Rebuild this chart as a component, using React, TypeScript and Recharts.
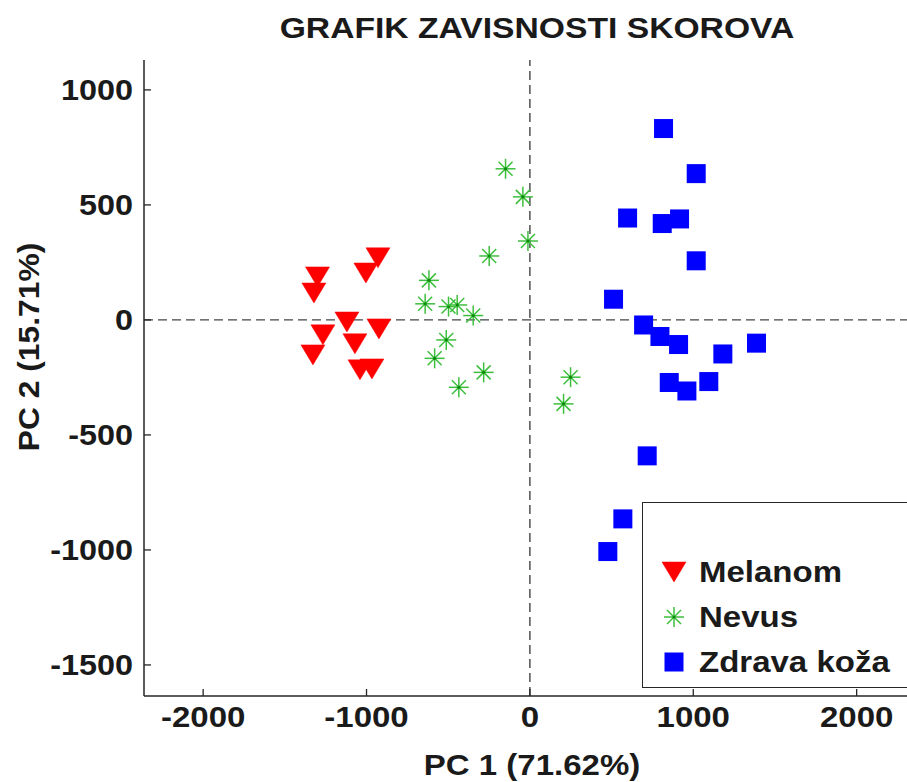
import { ScatterChart, Scatter, XAxis, YAxis, ReferenceLine, Legend } from 'recharts';

// PCA scores
const melanomX = [-930, -1004, -1300, -1322, -1120, -924, -1267, -1071, -1328, -1040, -967];
const melanomY = [270, 204, 187, 117, -9, -39, -65, -104, -152, -217, -213];

const nevusX = [-149, -43, -12, -249, -618, -641, -498, -445, -347, -512, -583, -283, -435, 249, 206];
const nevusY = [657, 535, 343, 278, 172, 70, 58, 65, 19, -87, -167, -228, -293, -249, -365];

const zdravaX = [818, 1018, 598, 810, 916, 1018, 512, 696, 796, 910, 1181, 1387, 853, 961, 1095, 718, 569, 477];
const zdravaY = [832, 636, 443, 419, 439, 257, 90, -22, -72, -107, -148, -101, -272, -309, -268, -591, -865, -1007];

const xTicks = [-2000, -1000, 0, 1000, 2000];
const yTicks = [-1500, -1000, -500, 0, 500, 1000];

const zip = (xs: number[], ys: number[]) => xs.map((x, i) => ({ x, y: ys[i] }));
const melanom = zip(melanomX, melanomY);
const nevus = zip(nevusX, nevusY);
const zdrava = zip(zdravaX, zdravaY);

const FONT = '"Liberation Sans", Arial, Helvetica, sans-serif';
const INK = '#1a1a1a';
const FRAME = '#262626';
const RED = '#ff0000';
const GREEN = '#3dbf3d';
const BLUE = '#0000ff';
const TICK_LEN = 7;

function Triangle({ cx, cy }: any) {
  return <polygon points={`${cx - 12},${cy - 10} ${cx + 12},${cy - 10} ${cx},${cy + 10}`} fill={RED} stroke={RED} strokeWidth={0.5} />;
}

function Asterisk({ cx, cy }: any) {
  const r = 10;
  const d = 7;
  return (
    <g stroke={GREEN} strokeWidth={1.5}>
      <line x1={cx - r} y1={cy} x2={cx + r} y2={cy} />
      <line x1={cx} y1={cy - r} x2={cx} y2={cy + r} />
      <line x1={cx - d} y1={cy - d} x2={cx + d} y2={cy + d} />
      <line x1={cx - d} y1={cy + d} x2={cx + d} y2={cy - d} />
      <circle cx={cx} cy={cy} r={1.6} fill="#0b8a0b" stroke="none" />
    </g>
  );
}

function Square({ cx, cy }: any) {
  return <rect x={cx - 9.5} y={cy - 9.5} width={19} height={19} fill={BLUE} />;
}

function BottomTick({ x, y, payload }: any) {
  return (
    <g>
      <line x1={x} y1={y} x2={x} y2={y - TICK_LEN} stroke={FRAME} strokeWidth={1.3} />
      <text
        transform={`translate(${x},${y + 21}) scale(1.1,1)`}
        textAnchor="middle"
        dominantBaseline="central"
        fontFamily={FONT}
        fontWeight="bold"
        fontSize={30}
        fill={INK}
      >
        {payload.value}
      </text>
    </g>
  );
}

function TopTick({ x, y }: any) {
  return <line x1={x} y1={y} x2={x} y2={y + TICK_LEN} stroke={FRAME} strokeWidth={1.3} />;
}

function LeftTick({ x, y, payload }: any) {
  return (
    <g>
      <line x1={x} y1={y} x2={x + TICK_LEN} y2={y} stroke={FRAME} strokeWidth={1.3} />
      <text
        transform={`translate(${x - 11},${y}) scale(1.08,1)`}
        textAnchor="end"
        dominantBaseline="central"
        fontFamily={FONT}
        fontWeight="bold"
        fontSize={30}
        fill={INK}
      >
        {payload.value}
      </text>
    </g>
  );
}

function RightTick({ x, y }: any) {
  return <line x1={x} y1={y} x2={x - TICK_LEN} y2={y} stroke={FRAME} strokeWidth={1.3} />;
}

const legendItems = [
  { name: 'Melanom', Marker: Triangle },
  { name: 'Nevus', Marker: Asterisk },
  { name: 'Zdrava koža', Marker: Square },
];

function LegendBox() {
  return (
    <div
      style={{
        boxSizing: 'border-box',
        width: 300,
        height: 186,
        border: `1.5px solid ${FRAME}`,
        background: '#fff',
        paddingTop: 46,
      }}
    >
      {legendItems.map(({ name, Marker }) => (
        <div key={name} style={{ height: 45, display: 'flex', alignItems: 'center' }}>
          <svg width={26} height={26} style={{ marginLeft: 18 }}>
            <Marker cx={13} cy={13} />
          </svg>
          <span
            style={{
              marginLeft: 12,
              fontFamily: FONT,
              fontWeight: 'bold',
              fontSize: 30,
              color: INK,
              lineHeight: 1,
              whiteSpace: 'nowrap',
              display: 'inline-block',
              transform: 'scale(1.1,1)',
              transformOrigin: 'left center',
            }}
          >
            {name}
          </span>
        </div>
      ))}
    </div>
  );
}

const textStyle = {
  position: 'absolute' as const,
  fontFamily: FONT,
  fontWeight: 'bold' as const,
  color: INK,
  lineHeight: 1,
  whiteSpace: 'nowrap' as const,
};

export default function App() {
  return (
    <div style={{ position: 'fixed', left: 0, top: 0, width: 907, height: 782, overflow: 'hidden', background: '#fff' }}>
      <ScatterChart width={950} height={782} margin={{ top: 60, right: 28, bottom: 26, left: 44 }}>
        <XAxis
          type="number"
          dataKey="x"
          domain={[-2362, 2400]}
          ticks={xTicks}
          allowDataOverflow
          height={60}
          axisLine={{ stroke: FRAME, strokeWidth: 1.5 }}
          tickLine={false}
          tickSize={0}
          tickMargin={0}
          tick={(p: any) => <BottomTick {...p} />}
        />
        <XAxis
          xAxisId="top"
          orientation="top"
          type="number"
          domain={[-2362, 2400]}
          ticks={xTicks}
          allowDataOverflow
          height={0}
          axisLine={{ stroke: FRAME, strokeWidth: 1.5 }}
          tickLine={false}
          tickSize={0}
          tickMargin={0}
          tick={(p: any) => <TopTick {...p} />}
        />
        <YAxis
          type="number"
          dataKey="y"
          domain={[-1635, 1130]}
          ticks={yTicks}
          allowDataOverflow
          width={100}
          axisLine={{ stroke: FRAME, strokeWidth: 1.5 }}
          tickLine={false}
          tickSize={0}
          tickMargin={0}
          tick={(p: any) => <LeftTick {...p} />}
        />
        <YAxis
          yAxisId="right"
          orientation="right"
          type="number"
          domain={[-1635, 1130]}
          ticks={yTicks}
          allowDataOverflow
          width={0}
          axisLine={{ stroke: FRAME, strokeWidth: 1.5 }}
          tickLine={false}
          tickSize={0}
          tickMargin={0}
          tick={(p: any) => <RightTick {...p} />}
        />
        <Scatter name="Melanom" data={melanom} isAnimationActive={false} shape={(p: any) => <Triangle cx={p.cx} cy={p.cy} />} />
        <Scatter name="Nevus" data={nevus} isAnimationActive={false} shape={(p: any) => <Asterisk cx={p.cx} cy={p.cy} />} />
        <Scatter name="Zdrava koža" data={zdrava} isAnimationActive={false} shape={(p: any) => <Square cx={p.cx} cy={p.cy} />} />
        <ReferenceLine x={0} stroke="#444" strokeWidth={1.4} strokeDasharray="9 5" />
        <ReferenceLine y={0} stroke="#444" strokeWidth={1.4} strokeDasharray="9 5" />
        <Legend
          layout="vertical"
          align="center"
          verticalAlign="middle"
          content={() => <LegendBox />}
          wrapperStyle={{ left: 642, top: 502, width: 300, height: 186 }}
        />
      </ScatterChart>

      <div style={{ ...textStyle, left: 537, top: 28, fontSize: 29, transform: 'translate(-50%,-50%) scale(1.16,1)' }}>
        GRAFIK ZAVISNOSTI SKOROVA
      </div>
      <div style={{ ...textStyle, left: 532, top: 765, fontSize: 30, transform: 'translate(-50%,-50%) scale(1.1,1)' }}>
        PC 1 (71.62%)
      </div>
      <div style={{ ...textStyle, left: 29, top: 347, fontSize: 30, transform: 'translate(-50%,-50%) rotate(-90deg) scale(1.06,1)' }}>
        PC 2 (15.71%)
      </div>
    </div>
  );
}
